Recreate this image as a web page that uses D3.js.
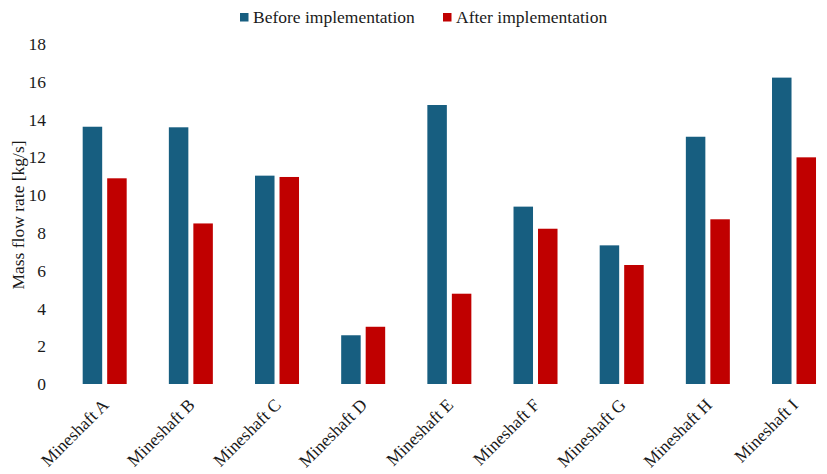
<!DOCTYPE html>
<html>
<head>
<meta charset="utf-8">
<script src="https://cdn.jsdelivr.net/npm/d3@7"></script>
<style>
  html, body { margin: 0; padding: 0; background: #fff; }
  svg { display: block; }
  text { font-family: "Liberation Serif", "DejaVu Serif", serif; fill: #1a1a1a; }
</style>
</head>
<body>
<svg id="chart" width="827" height="474"></svg>
<script>
const categories = ["Mineshaft A", "Mineshaft B", "Mineshaft C", "Mineshaft D", "Mineshaft E", "Mineshaft F", "Mineshaft G", "Mineshaft H", "Mineshaft I"];
const seriesNames = ["Before implementation", "After implementation"];
const beforeValues = [13.62, 13.59, 11.03, 2.58, 14.77, 9.39, 7.34, 13.09, 16.22];
const afterValues = [10.89, 8.50, 10.96, 3.03, 4.78, 8.22, 6.30, 8.72, 12.00];
const yTicks = [0, 2, 4, 6, 8, 10, 12, 14, 16, 18];
const colors = ["#175e80", "#c00000"];

const svg = d3.select("#chart");
const fontSize = 17.5;

const y = d3.scaleLinear().domain([0, 18]).range([384, 44]);
const x0 = d3.scaleBand().domain(categories).range([61.6, 837.1]).padding(0);
const x1 = d3.scaleBand().domain(seriesNames).range([-22, 22]).paddingInner(5 / 24.5).paddingOuter(0);

const data = categories.map((c, i) => ({ cat: c, vals: [beforeValues[i], afterValues[i]] }));

const groups = svg.append("g").selectAll("g").data(data).join("g")
  .attr("transform", d => `translate(${x0(d.cat) + x0.bandwidth() / 2},0)`);

groups.selectAll("rect").data(d => d.vals.map((v, j) => ({ s: seriesNames[j], v, j })))
  .join("rect")
  .attr("x", d => x1(d.s))
  .attr("width", x1.bandwidth())
  .attr("y", d => y(d.v))
  .attr("height", d => y(0) - y(d.v))
  .attr("fill", d => colors[d.j]);

// Y axis (no line, no ticks)
const yAxis = svg.append("g")
  .attr("transform", "translate(52,0)")
  .call(d3.axisLeft(y).tickValues(yTicks).tickSize(0).tickPadding(6).tickFormat(d3.format("d")));
yAxis.select(".domain").remove();
yAxis.selectAll("text").attr("font-size", fontSize).attr("font-family", "Liberation Serif").attr("fill", "#1a1a1a");

// X axis labels rotated
const xAxis = svg.append("g")
  .attr("transform", `translate(0,${y(0)})`)
  .call(d3.axisBottom(x0).tickSize(0).tickPadding(0));
xAxis.select(".domain").remove();
xAxis.selectAll("text")
  .attr("font-size", fontSize)
  .attr("font-family", "Liberation Serif")
  .attr("fill", "#1a1a1a")
  .attr("text-anchor", "end")
  .attr("dy", null)
  .attr("y", 0)
  .attr("transform", "translate(5,22) rotate(-45)");

// Y title
svg.append("text")
  .attr("transform", "translate(24,215) rotate(-90)")
  .attr("text-anchor", "middle")
  .attr("font-size", fontSize)
  .text("Mass flow rate [kg/s]");

// Legend
const legendItems = [{ name: seriesNames[0], x: 240 }, { name: seriesNames[1], x: 443 }];
const lg = svg.append("g").selectAll("g").data(legendItems).join("g")
  .attr("transform", d => `translate(${d.x},0)`);
lg.append("rect").attr("x", 0).attr("y", 13).attr("width", 8.5).attr("height", 8.5)
  .attr("fill", (d, i) => colors[i]);
lg.append("text").attr("x", 13).attr("y", 22.5).attr("font-size", fontSize).text(d => d.name);
</script>
</body>
</html>
